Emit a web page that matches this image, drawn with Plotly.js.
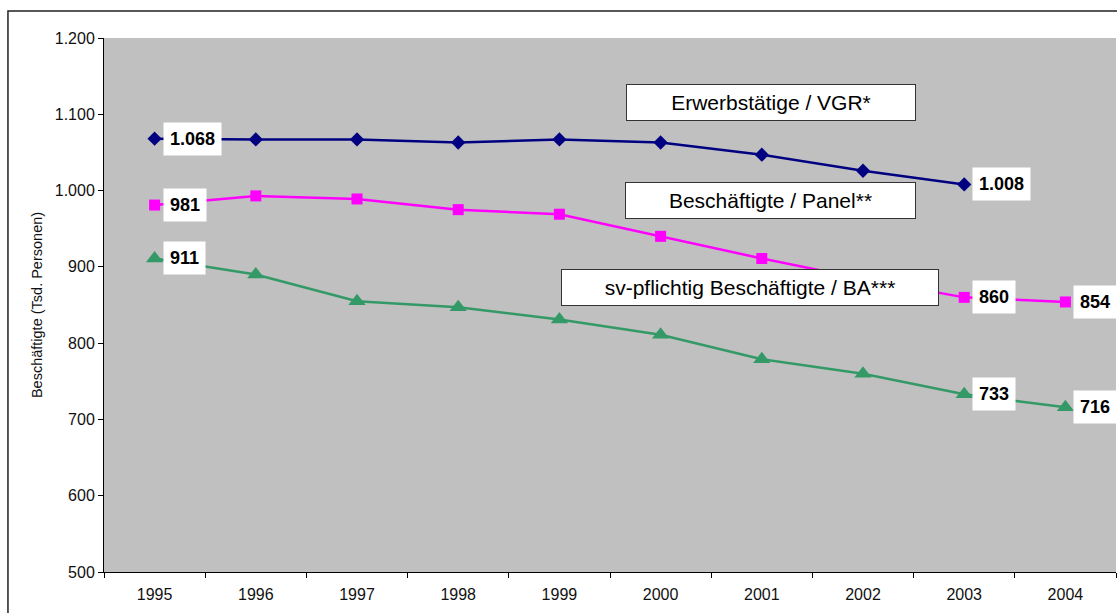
<!DOCTYPE html>
<html>
<head>
<meta charset="utf-8">
<script src="https://cdn.plot.ly/plotly-3.0.1.min.js"></script>
<style>html,body{margin:0;padding:0;background:#fff;}#chart{width:1117px;height:613px;}</style>
</head>
<body>
<div id="chart"></div>
<script>
var years = ["1995","1996","1997","1998","1999","2000","2001","2002","2003","2004"];
var erwerbYears = ["1995","1996","1997","1998","1999","2000","2001","2002","2003"];
var erwerb = [1068, 1067, 1067, 1063, 1067, 1063, 1047, 1026, 1008];
var panel = [981, 993, 989, 975, 969, 940, 911, 884, 860, 854];
var ba = [911, 890, 855, 847, 831, 811, 779, 760, 733, 716];
var seriesNames = ["Erwerbstätige / VGR*", "Beschäftigte / Panel**", "sv-pflichtig Beschäftigte / BA***"];
var yTitle = "Beschäftigte (Tsd. Personen)";
var yTicks = [500, 600, 700, 800, 900, 1000, 1100, 1200];

function fmt(n){
  if (n >= 1000) { return Math.floor(n/1000) + "." + String(n % 1000).padStart(3, "0"); }
  return String(n);
}

var traces = [
  {x: erwerbYears, y: erwerb, type: "scatter", mode: "lines+markers", name: seriesNames[0],
   line: {color: "#000080", width: 2.5}, marker: {symbol: "diamond", size: 11, color: "#000080"}},
  {x: years, y: panel, type: "scatter", mode: "lines+markers", name: seriesNames[1],
   line: {color: "#FF00FF", width: 2.5}, marker: {symbol: "square", size: 11, color: "#FF00FF"}},
  {x: years, y: ba, type: "scatter", mode: "lines+markers", name: seriesNames[2],
   line: {color: "#339966", width: 2.5}, marker: {symbol: "triangle-up", size: 15, color: "#339966"}}
];

var ann = [];
function addLabel(xv, yv){
  ann.push({x: years.indexOf(xv), y: yv, xref: "x", yref: "y", text: "<b>" + fmt(yv) + "</b>", showarrow: false,
    xanchor: "left", yanchor: "middle", xshift: 8, bgcolor: "#ffffff", borderpad: 6,
    font: {family: "Liberation Sans, Arial, sans-serif", size: 18, color: "#000"}});
}
addLabel(erwerbYears[0], erwerb[0]);
addLabel(erwerbYears[8], erwerb[8]);
addLabel(years[0], panel[0]);
addLabel(years[8], panel[8]);
addLabel(years[9], panel[9]);
addLabel(years[0], ba[0]);
addLabel(years[8], ba[8]);
addLabel(years[9], ba[9]);

var boxes = [
  {text: seriesNames[0], x: 0.659, y: 0.879, w: 286},
  {text: seriesNames[1], x: 0.6585, y: 0.695, w: 287},
  {text: seriesNames[2], x: 0.638, y: 0.5328, w: 374}
];
boxes.forEach(function(b){
  ann.push({x: b.x, y: b.y, xref: "paper", yref: "paper", text: b.text, showarrow: false,
    xanchor: "center", yanchor: "middle", width: b.w, height: 33, borderpad: 1,
    bgcolor: "#ffffff", bordercolor: "#333333", borderwidth: 1,
    font: {family: "Liberation Sans, Arial, sans-serif", size: 21, color: "#000"}});
});

var layout = {
  width: 1117, height: 613,
  margin: {l: 104, r: 1, t: 38, b: 41},
  paper_bgcolor: "#ffffff",
  plot_bgcolor: "#C0C0C0",
  separators: ",.",
  showlegend: false,
  font: {family: "Liberation Sans, Arial, sans-serif", size: 13, color: "#111"},
  xaxis: {type: "category", range: [-0.5, 9.5], tickson: "boundaries", ticks: "outside", ticklen: 5,
    tickcolor: "#000", showline: true, linecolor: "#000", linewidth: 1, showgrid: false, zeroline: false,
    ticklabelstandoff: 8,
    tickfont: {size: 16, color: "#111"}, fixedrange: true},
  yaxis: {range: [500, 1200], tickvals: yTicks, tickformat: ",d", ticks: "outside", ticklen: 5,
    tickcolor: "#000", showline: true, linecolor: "#000", linewidth: 1, showgrid: false, zeroline: false,
    tickfont: {size: 16, color: "#111"},
    title: {text: yTitle, font: {size: 14.5, color: "#111"}, standoff: 8}, fixedrange: true},
  annotations: ann,
  shapes: [{type: "rect", xref: "paper", yref: "paper", x0: -0.0949, x1: 1.02, y0: -0.2, y1: 1.0506,
    line: {color: "#222", width: 1.5}, fillcolor: "rgba(0,0,0,0)", layer: "below"}]
};

Plotly.newPlot("chart", traces, layout, {displayModeBar: false, staticPlot: true});
</script>
</body>
</html>
